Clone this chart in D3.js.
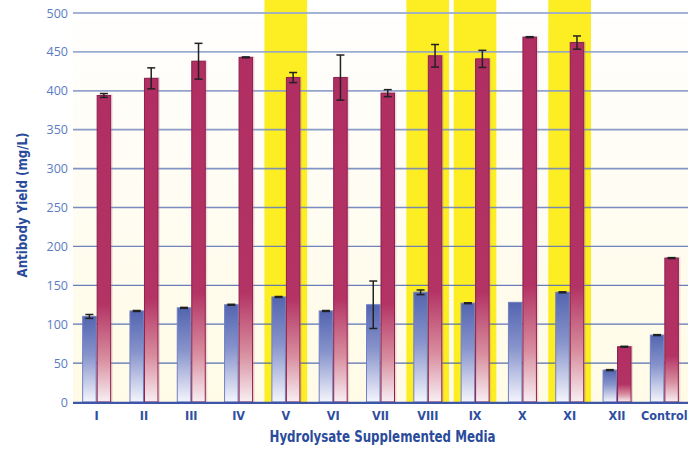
<!DOCTYPE html>
<html>
<head>
<meta charset="utf-8">
<script src="https://cdn.jsdelivr.net/npm/d3@7/dist/d3.min.js"></script>
<style>
  html, body { margin: 0; padding: 0; background: #ffffff; }
  svg { display: block; }
  .cond { font-family: "Liberation Sans Narrow", "DejaVu Sans Condensed", "Roboto", sans-serif; font-stretch: condensed; }
</style>
</head>
<body>
<svg id="chart" width="692" height="452"></svg>
<script>
// ---- data ----
const categories = ["I","II","III","IV","V","VI","VII","VIII","IX","X","XI","XII","Control"];
const highlighted = ["V","VIII","IX","XI"];
const blueValues = [110, 117, 121, 125, 135, 117, 125, 141, 127, 128, 141, 41, 86];
const blueErrors = [2.5, 0.6, 0.6, 0.6, 0.6, 0.6, 30.5, 3, 0.6, 0, 0.6, 0.6, 0.6];
const redValues  = [394, 416, 438, 443, 417, 417, 397, 445, 441, 469, 462, 71, 185];
const redErrors  = [2.5, 13.5, 23, 0.6, 6.5, 29, 4.5, 14.5, 11, 0.6, 8.5, 0.6, 0.6];
const yTicks = [0, 50, 100, 150, 200, 250, 300, 350, 400, 450, 500];
const yTitle = "Antibody Yield (mg/L)";
const xTitle = "Hydrolysate Supplemented Media";

// ---- layout ----
const svg = d3.select("#chart");
const plotLeft = 73, plotRight = 688, plotTop = 13, plotBottom = 402;

const x0 = d3.scaleBand().domain(categories).range([plotLeft, plotRight]).padding(0);
const bw = x0.bandwidth();
const x1 = d3.scaleBand().domain(["blue","red"]).range([bw/2 - 14.5, bw/2 + 14.5]).padding(0);
const y = d3.scaleLinear().domain([0, 500]).range([plotBottom, plotTop]);

const defs = svg.append("defs");
const bg = defs.append("linearGradient").attr("id","bgGrad").attr("x1",0).attr("y1",0).attr("x2",0).attr("y2",1);
bg.append("stop").attr("offset",0).attr("stop-color","#fffefd");
bg.append("stop").attr("offset",1).attr("stop-color","#fffbe6");

const gb = defs.append("linearGradient").attr("id","blueGrad").attr("x1",0).attr("y1",0).attr("x2",0).attr("y2",1);
gb.append("stop").attr("offset",0).attr("stop-color","#5365b0");
gb.append("stop").attr("offset",0.45).attr("stop-color","#8793cb");
gb.append("stop").attr("offset",1).attr("stop-color","#f4f5fc");

const gr = defs.append("linearGradient").attr("id","redGrad").attr("x1",0).attr("y1",0).attr("x2",0).attr("y2",1);
gr.append("stop").attr("offset",0).attr("stop-color","#b12e62");
gr.append("stop").attr("offset",0.68).attr("stop-color","#b33364");
gr.append("stop").attr("offset",0.86).attr("stop-color","#d88e9f");
gr.append("stop").attr("offset",1).attr("stop-color","#f8eff3");

// plot background
svg.append("rect").attr("x", plotLeft).attr("y", 19).attr("width", plotRight - plotLeft).attr("height", plotBottom - 19)
  .attr("fill", "url(#bgGrad)");

// highlights
svg.append("g").selectAll("rect").data(highlighted).join("rect")
  .attr("x", d => x0(d) + 2.2)
  .attr("y", 0)
  .attr("width", bw - 4.6)
  .attr("height", plotBottom)
  .attr("fill", "#fcee23");

// grid lines
const gridColor = d3.scaleLinear().domain([0, 500]).range(["#3a54a6", "#9aaacf"]);
svg.append("g").selectAll("line").data(yTicks.filter(t => t > 0)).join("line")
  .attr("x1", plotLeft).attr("x2", plotRight)
  .attr("y1", d => y(d)).attr("y2", d => y(d))
  .attr("stroke", d => gridColor(d))
  .attr("stroke-opacity", 0.9)
  .attr("stroke-width", d => d >= 300 ? 1.8 : 1.3);

// y tick labels
svg.append("g").selectAll("text").data(yTicks).join("text")
  .attr("x", 68).attr("y", d => y(d) + 4.5)
  .attr("text-anchor", "end")
  .attr("font-family", "'Open Sans', 'Noto Sans', sans-serif")
  .attr("font-size", 12.5)
  .attr("fill", "#5b7bc4")
  .text(d => d);

// bars
const groups = svg.append("g").selectAll("g").data(categories).join("g")
  .attr("transform", d => `translate(${x0(d)},0)`);

// shadows
groups.append("rect")
  .attr("x", x1("blue") + 1.5).attr("width", x1.bandwidth())
  .attr("y", (d,i) => y(blueValues[i]) - 1).attr("height", (d,i) => plotBottom - y(blueValues[i]) + 1)
  .attr("fill", "#9aa0b8").attr("opacity", 0.25);
groups.append("rect")
  .attr("x", x1("red") + 1.5).attr("width", x1.bandwidth())
  .attr("y", (d,i) => y(redValues[i]) - 1).attr("height", (d,i) => plotBottom - y(redValues[i]) + 1)
  .attr("fill", "#c08aa0").attr("opacity", 0.3);

groups.append("rect")
  .attr("x", x1("blue") + 0.5).attr("width", x1.bandwidth() - 1)
  .attr("y", (d,i) => y(blueValues[i])).attr("height", (d,i) => plotBottom - y(blueValues[i]))
  .attr("fill", "url(#blueGrad)").attr("stroke", "#7080c4").attr("stroke-width", 1);
groups.append("rect")
  .attr("x", x1("red") + 0.5).attr("width", x1.bandwidth() - 1)
  .attr("y", (d,i) => y(redValues[i])).attr("height", (d,i) => plotBottom - y(redValues[i]))
  .attr("fill", "url(#redGrad)").attr("stroke", "#8c1f4d").attr("stroke-width", 1);

// error bars
function errorBars(key, vals, errs) {
  const cx = x1(key) + x1.bandwidth()/2;
  const g = groups.append("g").attr("stroke", "#222").attr("stroke-width", 1.5);
  g.filter((d,i) => errs[i] > 0).each(function(d) {
    const i = categories.indexOf(d);
    const sel = d3.select(this);
    const y1 = y(vals[i] + errs[i]), y2 = y(vals[i] - errs[i]);
    sel.append("line").attr("x1", cx).attr("x2", cx).attr("y1", y1).attr("y2", y2);
    sel.append("line").attr("x1", cx - 4).attr("x2", cx + 4).attr("y1", y1).attr("y2", y1);
    sel.append("line").attr("x1", cx - 4).attr("x2", cx + 4).attr("y1", y2).attr("y2", y2);
  });
}
errorBars("blue", blueValues, blueErrors);
errorBars("red", redValues, redErrors);

// baseline
svg.append("line").attr("x1", plotLeft).attr("x2", plotRight).attr("y1", plotBottom + 0.8).attr("y2", plotBottom + 0.8)
  .attr("stroke", "#3d56a8").attr("stroke-width", 2.2);

// category labels
svg.append("g").selectAll("text").data(categories).join("text")
  .attr("class", "cond")
  .attr("x", d => x0(d) + bw/2).attr("y", 419.5)
  .attr("text-anchor", "middle")
  .attr("font-size", 12.5).attr("font-weight", "bold")
  .attr("fill", "#2e4e9f")
  .text(d => d);

// axis titles
svg.append("text").attr("class","cond")
  .attr("x", 382.5).attr("y", 442)
  .attr("text-anchor", "middle")
  .attr("font-size", 15).attr("font-weight", "bold")
  .attr("fill", "#2a4b9b")
  .attr("textLength", 226).attr("lengthAdjust", "spacingAndGlyphs")
  .text(xTitle);

svg.append("text").attr("class","cond")
  .attr("transform", "translate(27,205) rotate(-90)")
  .attr("text-anchor", "middle")
  .attr("font-size", 14).attr("font-weight", "bold")
  .attr("fill", "#2a4b9b")
  .attr("textLength", 145).attr("lengthAdjust", "spacingAndGlyphs")
  .text(yTitle);
</script>
</body>
</html>
